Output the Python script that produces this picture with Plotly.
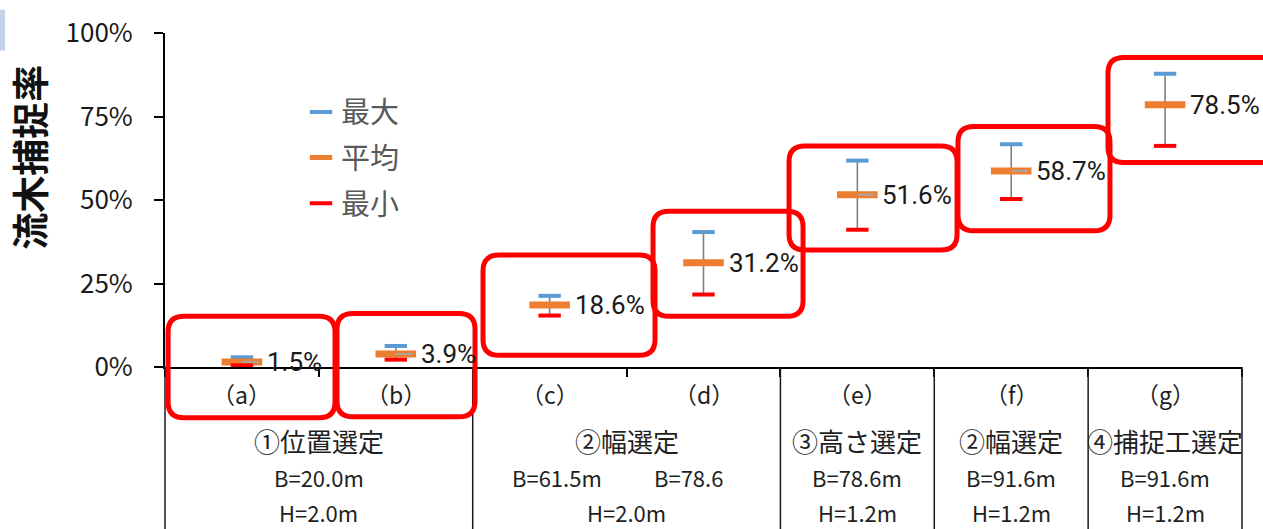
import plotly.graph_objects as go

# ---------------- data ----------------
categories = ["（a）", "（b）", "（c）", "（d）", "（e）", "（f）", "（g）"]
max_vals = [2.9, 6.3, 21.3, 40.4, 61.8, 66.7, 87.8]
mean_vals = [1.5, 3.9, 18.6, 31.2, 51.6, 58.7, 78.5]
min_vals = [0.5, 2.2, 15.4, 21.7, 41.1, 50.3, 66.2]
series_names = ["最大", "平均", "最小"]
y_ticks = [0, 25, 50, 75, 100]
y_ticktext = ["0%", "25%", "50%", "75%", "100%"]
y_title = "流木捕捉率"

group_labels = ["①位置選定", "②幅選定", "③高さ選定", "②幅選定", "④捕捉工選定"]
group_spans = [(0, 1), (2, 3), (4, 4), (5, 5), (6, 6)]
width_labels = [(0.5, "B=20.0m"), (2.05, "B=61.5m"), (2.9, "B=78.6"),
                (4, "B=78.6m"), (5, "B=91.6m"), (6, "B=91.6m")]
height_labels = ["H=2.0m", "H=2.0m", "H=1.2m", "H=1.2m", "H=1.2m"]
leader_flags = [True, True, False, False, True, True, False]

# highlight boxes (x in category units, y in %)
highlight_boxes = [(-0.48, 0.605, -15.2, 15.2), (0.618, 1.515, -14.9, 16.0),
                   (1.567, 2.685, 3.5, 33.5), (2.672, 3.647, 15.2, 46.6),
                   (3.556, 4.648, 35.0, 66.2), (4.654, 5.642, 40.8, 72.0),
                   (5.629, 6.72, 61.2, 92.7)]

# ---------------- style ----------------
C_MAX = "#5B9BD5"
C_MEAN = "#ED7D31"
C_MIN = "#FF0000"
JP = "Noto Sans CJK JP"
NARROW = "Liberation Sans Narrow, Roboto, sans-serif"
TXT = "#1f1f1f"

W, H = 1263, 529
ML, MR, MT, MB = 165, 21, 24, 162
PW = W - ML - MR
PH = H - MT - MB
N = len(categories)
xs = list(range(N))


def px(x):  # category units -> paper
    return (x + 0.5) / N


def py(v):  # percent -> paper
    return v / 100.0


fig = go.Figure()

# vertical range lines (min -> max)
fig.add_trace(go.Scatter(
    x=xs, y=mean_vals, mode="markers", showlegend=False, hoverinfo="skip",
    marker=dict(color="rgba(0,0,0,0)", size=1),
    error_y=dict(type="data", symmetric=False,
                 array=[a - m for a, m in zip(max_vals, mean_vals)],
                 arrayminus=[m - b for m, b in zip(mean_vals, min_vals)],
                 color="#7f7f7f", thickness=1.6, width=0),
    cliponaxis=False,
))

fig.add_trace(go.Scatter(
    x=xs, y=max_vals, mode="markers", name=series_names[0], legendgroup="a", legendrank=1,
    marker=dict(symbol="line-ew", size=16, line=dict(color=C_MAX, width=4)),
    cliponaxis=False,
))
fig.add_trace(go.Scatter(
    x=xs, y=mean_vals, mode="markers", name=series_names[1], legendgroup="b", legendrank=2,
    marker=dict(symbol="line-ew", size=29, line=dict(color=C_MEAN, width=7)),
    cliponaxis=False,
))
fig.add_trace(go.Scatter(
    x=xs, y=min_vals, mode="markers", name=series_names[2], legendgroup="c", legendrank=3,
    marker=dict(symbol="line-ew", size=16, line=dict(color=C_MIN, width=4)),
    cliponaxis=False,
))

shapes = []
annotations = []

# leader lines next to mean markers
for i, (flag, m) in enumerate(zip(leader_flags, mean_vals)):
    if flag:
        shapes.append(dict(type="line", xref="x", yref="y", x0=i, x1=i + 0.11, y0=m, y1=m,
                           line=dict(color="#a6a6a6", width=2)))

# data labels
for i, m in enumerate(mean_vals):
    annotations.append(dict(xref="x", yref="y", x=i, y=m, xanchor="left", yanchor="middle",
                            xshift=23, text=f"{m:.1f}%", showarrow=False,
                            font=dict(family=NARROW, size=26, color="#1a1a1a")))

# category labels
for i, c in enumerate(categories):
    annotations.append(dict(xref="paper", yref="paper", x=px(i), y=-28 / PH,
                            xanchor="center", yanchor="middle",
                            text=c, showarrow=False, font=dict(family=JP, size=23, color=TXT)))

# group labels
for (a, b), g, hl in zip(group_spans, group_labels, height_labels):
    xc = px((a + b) / 2)
    annotations.append(dict(xref="paper", yref="paper", x=xc, y=-75 / PH,
                            xanchor="center", yanchor="middle",
                            text=g, showarrow=False, font=dict(family=JP, size=26, color=TXT)))
    annotations.append(dict(xref="paper", yref="paper", x=xc, y=-149 / PH,
                            xanchor="center", yanchor="middle",
                            text=hl, showarrow=False, font=dict(family=JP, size=22, color=TXT)))
for x, t in width_labels:
    annotations.append(dict(xref="paper", yref="paper", x=px(x), y=-113 / PH,
                            xanchor="center", yanchor="middle",
                            text=t, showarrow=False, font=dict(family=JP, size=22, color=TXT)))

# group separators
bounds = sorted(set([group_spans[0][0] - 0.5] + [b + 0.5 for _, b in group_spans]))
for bnd in bounds:
    shapes.append(dict(type="line", xref="paper", yref="paper", x0=px(bnd), x1=px(bnd),
                       y0=0, y1=-(MB + 5) / PH, line=dict(color="#1a1a1a", width=1.5)))

# y-axis title
annotations.append(dict(xref="paper", yref="paper", x=(29 - ML) / PW, y=(367 - 152) / PH,
                        xanchor="center", yanchor="middle", textangle=-90, text=y_title,
                        showarrow=False, font=dict(family=JP, size=37, color="#111111", weight="bold")))

# rounded highlight boxes
rx, ry = 16 / PW, 16 / PH
for (x0, x1, y0, y1) in highlight_boxes:
    X0, X1, Y0, Y1 = px(x0), px(x1), py(y0), py(y1)
    path = (f"M{X0+rx},{Y0} L{X1-rx},{Y0} Q{X1},{Y0} {X1},{Y0+ry} L{X1},{Y1-ry} "
            f"Q{X1},{Y1} {X1-rx},{Y1} L{X0+rx},{Y1} Q{X0},{Y1} {X0},{Y1-ry} "
            f"L{X0},{Y0+ry} Q{X0},{Y0} {X0+rx},{Y0} Z")
    shapes.append(dict(type="path", xref="paper", yref="paper", path=path,
                       line=dict(color="#FF0000", width=5)))

# slide artifact top-left
shapes.append(dict(type="rect", xref="paper", yref="paper", x0=(0 - ML) / PW, x1=(5 - ML) / PW,
                   y0=(PH + MT - 42) / PH, y1=(PH + MT) / PH, fillcolor="#c3d3e8",
                   line=dict(width=0), layer="below"))

fig.update_layout(
    width=W, height=H,
    margin=dict(l=ML, r=MR, t=MT, b=MB, pad=0),
    paper_bgcolor="white", plot_bgcolor="white",
    showlegend=True,
    legend=dict(x=(301 - ML) / PW, y=(367 - 79) / PH, xanchor="left", yanchor="top",
                bgcolor="rgba(0,0,0,0)", borderwidth=0, tracegroupgap=5,
                font=dict(family=JP, size=29, color="#595959")),
    xaxis=dict(range=[-0.5, N - 0.5], showgrid=False, zeroline=False, showline=True,
               linecolor="#000000", linewidth=2, ticks="outside", ticklen=8, tickwidth=1.5,
               tickcolor="#000000", tickvals=[i - 0.5 for i in range(N + 1)],
               showticklabels=False, fixedrange=True),
    yaxis=dict(range=[0, 100], showgrid=False, zeroline=False, showline=True,
               linecolor="#000000", linewidth=2, ticks="outside", ticklen=9, tickwidth=2,
               tickcolor="#000000", tickmode="array", tickvals=y_ticks, ticktext=y_ticktext,
               ticklabelstandoff=16,
               tickfont=dict(family=JP, size=26, color="#1a1a1a"), fixedrange=True),
    shapes=shapes, annotations=annotations,
)

fig.write_html("out.html")
